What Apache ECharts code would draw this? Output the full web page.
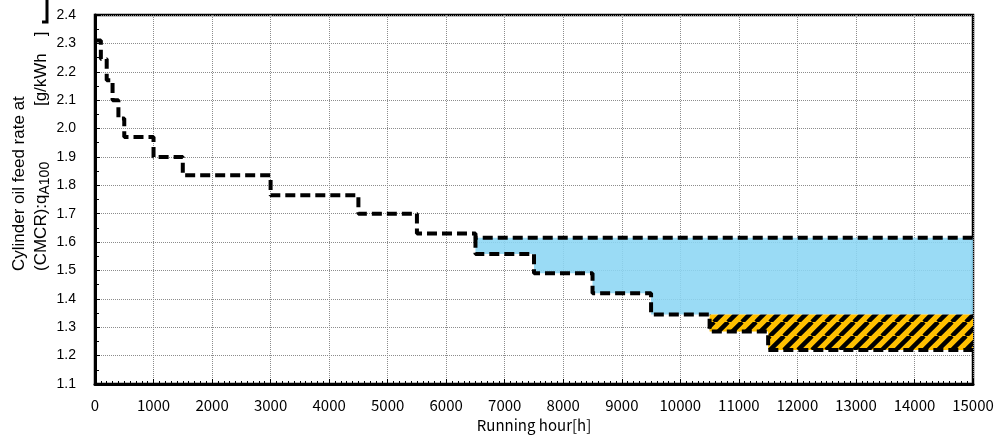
<!DOCTYPE html>
<html>
<head>
<meta charset="utf-8">
<script src="https://cdn.jsdelivr.net/npm/echarts@6/dist/echarts.min.js"></script>
<style>
  html, body { margin: 0; padding: 0; background: #fff; }
  #chart { width: 1005px; height: 439px; }
</style>
</head>
<body>
<div id="chart"></div>
<script>
// Feed-rate steps (running hour -> g/kWh); each value holds until the next hour.
const mainHours = [0, 100, 200, 300, 400, 500, 1000, 1500, 3000, 4500, 5500, 6500, 15000];
const mainRate  = [2.31, 2.245, 2.17, 2.10, 2.035, 1.97, 1.90, 1.835, 1.765, 1.70, 1.63, 1.615, 1.615];

// Lower stepped limit after 6500 h
const stairHours = [6500, 6500, 7500, 8500, 9500, 10500, 11500, 15000];
const stairRate  = [1.615, 1.558, 1.49, 1.42, 1.345, 1.285, 1.22, 1.22];

// Blue band: between the upper limit and the stepped lower edge
const blueHours  = [6500, 7500, 8500, 9500, 15000];
const blueBottom = [1.558, 1.49, 1.42, 1.345, 1.345];
const blueTop    = 1.615;

// Hatched band
const hatchHours  = [10500, 11500, 15000];
const hatchBottom = [1.285, 1.22, 1.22];
const hatchTop    = 1.345;

// Axis ticks
const xTicks = { min: 0, max: 15000, step: 1000 };
const yTicks = { min: 1.1, max: 2.4, step: 0.1 };

const pairs = (xs, ys) => xs.map((x, i) => [x, ys[i]]);

// Polygon of a band: flat top, stepped bottom (each bottom value holds to the next hour)
function bandRenderer(xs, bottoms, top, fill) {
  return function (params, api) {
    const n = xs.length;
    const pts = [api.coord([xs[0], top]), api.coord([xs[n - 1], top])];
    const lower = [];
    for (let i = 0; i < n - 1; i++) {
      lower.push(api.coord([xs[i], bottoms[i]]));
      lower.push(api.coord([xs[i + 1], bottoms[i]]));
    }
    lower.reverse().forEach(p => pts.push(p));
    return {
      type: 'polygon',
      shape: { points: pts },
      style: { fill: fill, stroke: null },
      silent: true
    };
  };
}

// Yellow/black diagonal hatch pattern
function hatchPattern() {
  const s = 14;
  const c = document.createElement('canvas');
  c.width = s; c.height = s;
  const g = c.getContext('2d');
  g.fillStyle = '#FFC000';
  g.fillRect(0, 0, s, s);
  g.strokeStyle = '#000';
  g.lineWidth = 4.5;
  g.beginPath();
  for (const o of [-s, 0, s]) {
    g.moveTo(o, s);
    g.lineTo(o + s, 0);
  }
  g.stroke();
  return c;
}

const dash = { color: '#000', width: 4, type: [10, 5] };
const sans = '"Liberation Sans", Arial, sans-serif';
const gothic = '"Noto Sans CJK JP", "Noto Sans", sans-serif';

const chart = echarts.init(document.getElementById('chart'), null, { renderer: 'canvas' });

chart.setOption({
  animation: false,
  backgroundColor: '#fff',
  grid: {
    left: 95, right: 32, top: 15, bottom: 55,
    show: true, borderColor: '#000', borderWidth: 2.5, backgroundColor: 'transparent'
  },
  xAxis: {
    type: 'value',
    min: xTicks.min, max: xTicks.max, interval: xTicks.step,
    name: 'Running hour[h]',
    nameLocation: 'middle',
    nameGap: 33,
    nameTextStyle: { color: '#000', fontSize: 15, fontFamily: gothic },
    axisLine: { show: true, onZero: false, lineStyle: { color: '#000', width: 3 } },
    axisTick: { show: true, inside: true, length: 5, lineStyle: { color: '#000', width: 1 } },
    minorTick: { show: true, splitNumber: 10, length: 3, lineStyle: { color: '#000', width: 1 } },
    axisLabel: { color: '#000', fontSize: 15, margin: 14, fontFamily: gothic, formatter: v => String(v) },
    splitLine: { show: true, lineStyle: { color: '#8c8c8c', width: 1, type: 'dotted' } }
  },
  yAxis: {
    type: 'value',
    min: yTicks.min, max: yTicks.max, interval: yTicks.step,
    axisLine: { show: true, onZero: false, lineStyle: { color: '#000', width: 3 } },
    axisTick: { show: true, inside: true, length: 5, lineStyle: { color: '#000', width: 1 } },
    minorTick: { show: true, splitNumber: 2, length: 4, lineStyle: { color: '#000', width: 1 } },
    axisLabel: {
      color: '#000', fontSize: 14, margin: 19, fontFamily: sans,
      formatter: v => v.toFixed(1)
    },
    splitLine: { show: true, lineStyle: { color: '#8c8c8c', width: 1, type: 'dotted' } }
  },
  graphic: [
    {
      type: 'text',
      x: 8, y: 271,
      rotation: Math.PI / 2,
      style: {
        text: '{a|Cylinder oil feed rate at}\n{a|(CMCR):q}{s|A100}{a|\u3000\u3000\u3000 [g/kWh\u3000]}',
        align: 'left',
        verticalAlign: 'top',
        fill: '#000',
        rich: {
          a: { fontSize: 17, lineHeight: 22, fontFamily: sans, fill: '#000', align: 'left' },
          s: { fontSize: 14, lineHeight: 17, fontFamily: sans, fill: '#000', verticalAlign: 'bottom', align: 'left' }
        }
      }
    },
    {
      type: 'polyline',
      shape: { points: [[47, 0], [47, 22], [42, 22]] },
      style: { stroke: '#000', lineWidth: 3, fill: null }
    }
  ],
  series: [
    {
      name: 'blue band', type: 'custom', z: 1,
      data: [[blueHours[0], blueTop]],
      renderItem: bandRenderer(blueHours, blueBottom, blueTop, 'rgba(140,214,244,0.88)')
    },
    {
      name: 'hatch band', type: 'custom', z: 1,
      data: [[hatchHours[0], hatchTop]],
      renderItem: bandRenderer(hatchHours, hatchBottom, hatchTop, { image: hatchPattern(), repeat: 'repeat' })
    },
    {
      name: 'feed rate', type: 'line', step: 'end',
      data: pairs(mainHours, mainRate),
      symbol: 'none', silent: true, z: 3,
      lineStyle: dash
    },
    {
      name: 'lower limit', type: 'line', step: 'end',
      data: pairs(stairHours, stairRate),
      symbol: 'none', silent: true, z: 3,
      lineStyle: dash
    }
  ]
});
</script>
</body>
</html>
